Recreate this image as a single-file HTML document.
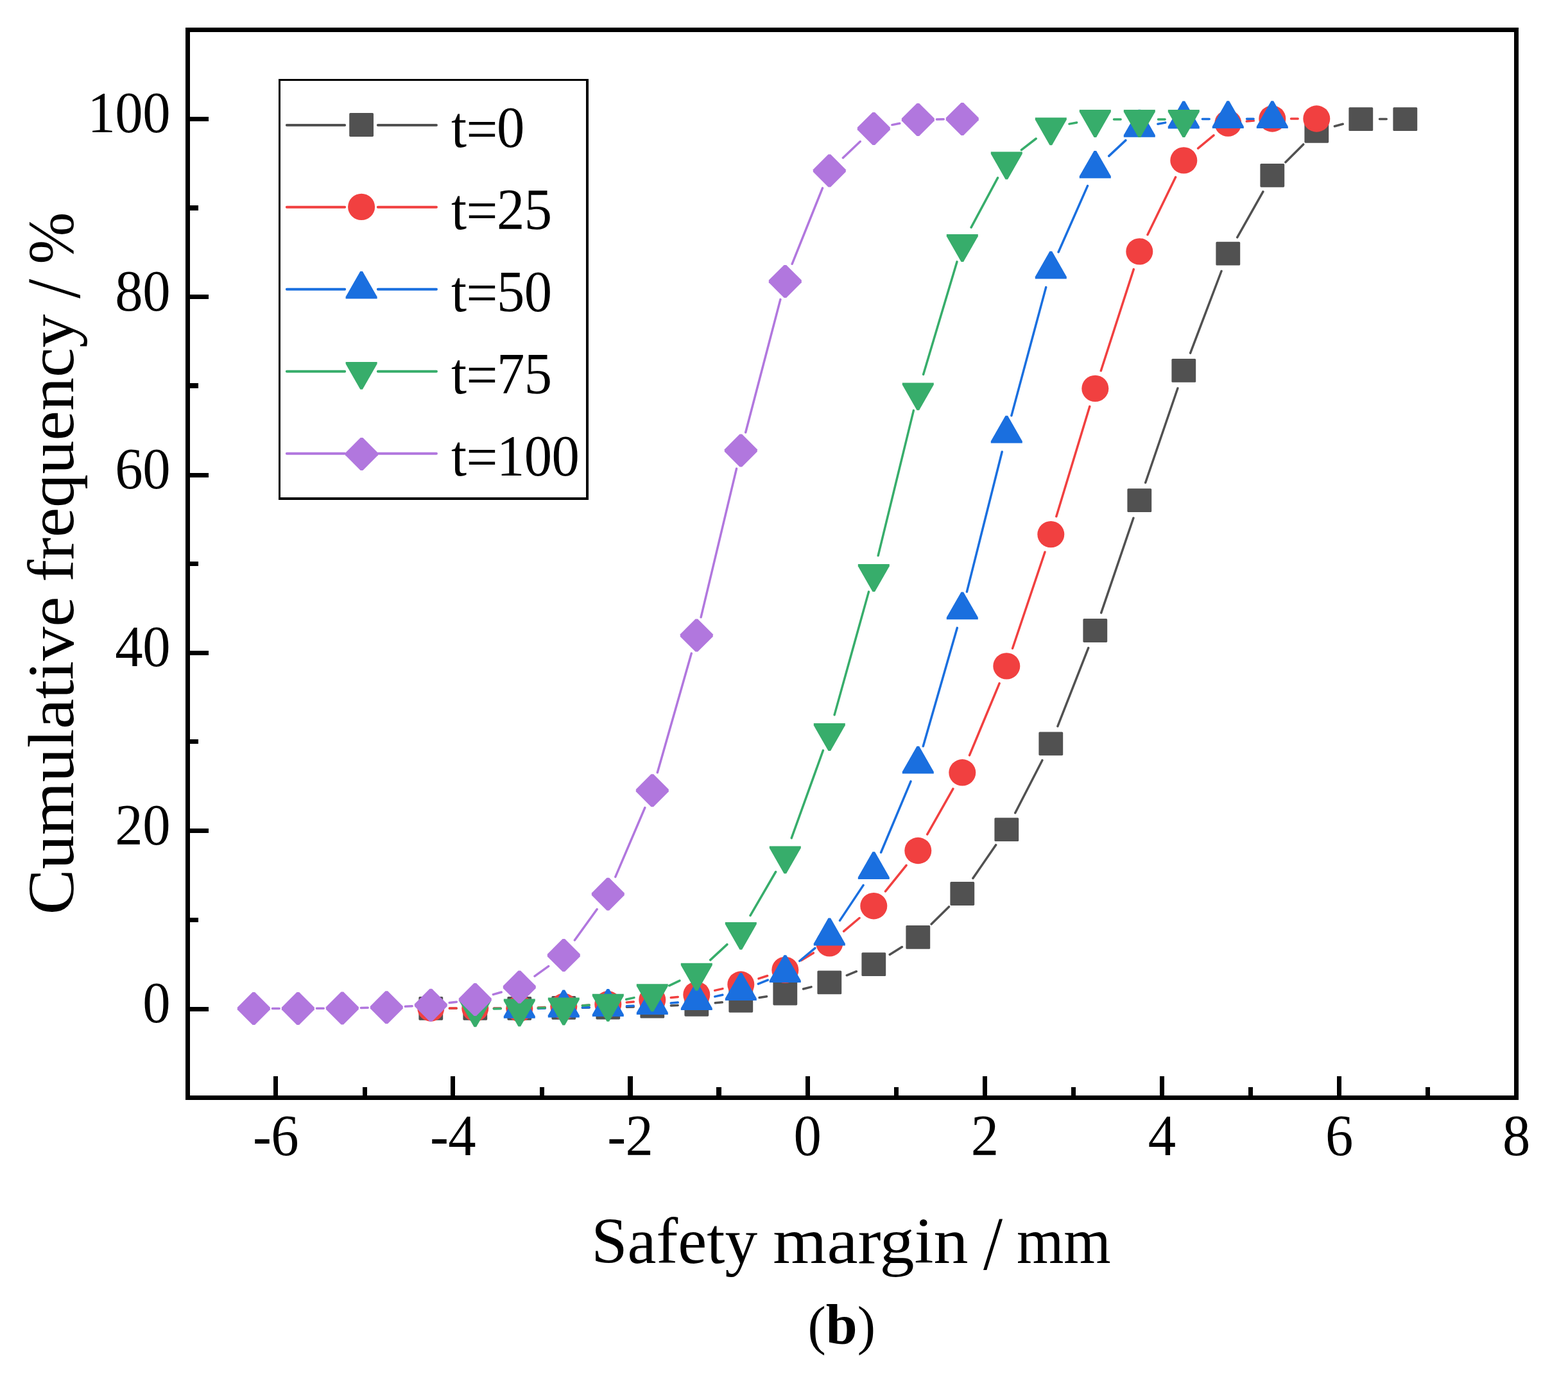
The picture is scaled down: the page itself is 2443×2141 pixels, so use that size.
<!DOCTYPE html>
<html lang="en"><head><meta charset="utf-8"><title>Cumulative frequency vs safety margin (b)</title>
<style>
html,body{margin:0;padding:0;background:#fff;}
body{width:2443px;height:2141px;overflow:hidden;}
svg{display:block;}
text{font-family:"Liberation Serif","DejaVu Serif",serif;fill:#000;}
.tk{font-size:91.4px;letter-spacing:-0.57px;}
.lg{font-size:91.4px;letter-spacing:-0.57px;}
.ti{font-size:101.5px;}
.cap{font-size:88px;}
</style></head><body>
<svg width="2443" height="2141" viewBox="0 0 2443 2141" role="img" aria-label="Cumulative frequency versus safety margin">
<rect x="0" y="0" width="2443" height="2141" fill="#fff"/>
<g id="s-black">
<path d="M700.4 1571.3L711.1 1571.3M769.4 1571.3L780.1 1571.3M838.4 1570.9L849.2 1570.7M907.4 1570.2L918.2 1570.1M976.4 1569.2L987.2 1569.0M1045.4 1567.0L1056.2 1566.5M1114.3 1562.8L1125.3 1561.8M1183.1 1554.6L1194.5 1552.7M1251.6 1541.0L1264.0 1537.9M1319.3 1519.8L1334.3 1513.7M1386.2 1487.4L1405.4 1475.6M1451.1 1440.0L1478.5 1412.9M1515.9 1368.5L1551.7 1316.6M1581.7 1266.7L1623.9 1184.7M1647.9 1131.7L1695.7 1009.6M1715.7 954.9L1765.9 807.2M1784.7 752.0L1834.9 605.0M1854.6 550.1L1903.0 422.5M1927.7 369.8L1967.9 298.7M2002.9 252.7L2030.7 224.9M2079.4 196.7L2092.2 193.2M2149.5 185.6L2160.2 185.6" fill="none" stroke="#515151" stroke-width="3.5" stroke-linecap="round"/>
<rect x="652.4" y="1552.9" width="37.8" height="36.8" rx="1.6" fill="#515151"/>
<rect x="721.4" y="1552.9" width="37.8" height="36.8" rx="1.6" fill="#515151"/>
<rect x="790.4" y="1552.9" width="37.8" height="36.8" rx="1.6" fill="#515151"/>
<rect x="859.4" y="1551.9" width="37.8" height="36.8" rx="1.6" fill="#515151"/>
<rect x="928.4" y="1551.6" width="37.8" height="36.8" rx="1.6" fill="#515151"/>
<rect x="997.4" y="1549.8" width="37.8" height="36.8" rx="1.6" fill="#515151"/>
<rect x="1066.4" y="1546.9" width="37.8" height="36.8" rx="1.6" fill="#515151"/>
<rect x="1135.4" y="1540.9" width="37.8" height="36.8" rx="1.6" fill="#515151"/>
<rect x="1204.4" y="1529.6" width="37.8" height="36.8" rx="1.6" fill="#515151"/>
<rect x="1273.4" y="1512.5" width="37.8" height="36.8" rx="1.6" fill="#515151"/>
<rect x="1342.4" y="1484.2" width="37.8" height="36.8" rx="1.6" fill="#515151"/>
<rect x="1411.4" y="1442.0" width="37.8" height="36.8" rx="1.6" fill="#515151"/>
<rect x="1480.4" y="1374.1" width="37.8" height="36.8" rx="1.6" fill="#515151"/>
<rect x="1549.4" y="1274.2" width="37.8" height="36.8" rx="1.6" fill="#515151"/>
<rect x="1618.4" y="1140.4" width="37.8" height="36.8" rx="1.6" fill="#515151"/>
<rect x="1687.4" y="964.1" width="37.8" height="36.8" rx="1.6" fill="#515151"/>
<rect x="1756.4" y="761.2" width="37.8" height="36.8" rx="1.6" fill="#515151"/>
<rect x="1825.4" y="559.0" width="37.8" height="36.8" rx="1.6" fill="#515151"/>
<rect x="1894.4" y="376.8" width="37.8" height="36.8" rx="1.6" fill="#515151"/>
<rect x="1963.4" y="254.9" width="37.8" height="36.8" rx="1.6" fill="#515151"/>
<rect x="2032.4" y="185.9" width="37.8" height="36.8" rx="1.6" fill="#515151"/>
<rect x="2101.4" y="167.2" width="37.8" height="36.8" rx="1.6" fill="#515151"/>
<rect x="2170.4" y="167.2" width="37.8" height="36.8" rx="1.6" fill="#515151"/>
</g>
<g id="s-red">
<path d="M700.4 1571.1L711.2 1571.1M769.4 1571.2L780.2 1571.3M838.4 1570.0L849.2 1569.6M907.4 1566.8L918.2 1566.3M976.3 1561.9L987.3 1560.9M1045.3 1554.6L1056.3 1553.4M1113.7 1543.4L1125.9 1540.6M1182.0 1524.9L1195.6 1520.5M1248.3 1496.4L1267.3 1484.9M1314.6 1451.1L1339.0 1430.5M1379.5 1388.9L1412.1 1348.3M1444.7 1300.1L1484.9 1229.2M1510.5 1176.9L1557.1 1064.8M1577.6 1010.3L1628.0 860.2M1645.8 804.7L1697.8 633.3M1715.3 577.7L1766.3 419.6M1788.0 365.7L1831.6 276.1M1866.6 231.2L1891.0 210.8M1942.3 189.1L1953.3 188.0M2011.5 185.0L2022.2 185.0" fill="none" stroke="#F14040" stroke-width="3.5" stroke-linecap="round"/>
<ellipse cx="671.3" cy="1571.0" rx="21" ry="20.7" fill="#F14040"/>
<ellipse cx="740.3" cy="1571.2" rx="21" ry="20.7" fill="#F14040"/>
<ellipse cx="809.3" cy="1571.3" rx="21" ry="20.7" fill="#F14040"/>
<ellipse cx="878.3" cy="1568.3" rx="21" ry="20.7" fill="#F14040"/>
<ellipse cx="947.3" cy="1564.8" rx="21" ry="20.7" fill="#F14040"/>
<ellipse cx="1016.3" cy="1558.0" rx="21" ry="20.7" fill="#F14040"/>
<ellipse cx="1085.3" cy="1550.0" rx="21" ry="20.7" fill="#F14040"/>
<ellipse cx="1154.3" cy="1534.0" rx="21" ry="20.7" fill="#F14040"/>
<ellipse cx="1223.3" cy="1511.4" rx="21" ry="20.7" fill="#F14040"/>
<ellipse cx="1292.3" cy="1469.9" rx="21" ry="20.7" fill="#F14040"/>
<ellipse cx="1361.3" cy="1411.7" rx="21" ry="20.7" fill="#F14040"/>
<ellipse cx="1430.3" cy="1325.5" rx="21" ry="20.7" fill="#F14040"/>
<ellipse cx="1499.3" cy="1203.8" rx="21" ry="20.7" fill="#F14040"/>
<ellipse cx="1568.3" cy="1037.9" rx="21" ry="20.7" fill="#F14040"/>
<ellipse cx="1637.3" cy="832.6" rx="21" ry="20.7" fill="#F14040"/>
<ellipse cx="1706.3" cy="605.4" rx="21" ry="20.7" fill="#F14040"/>
<ellipse cx="1775.3" cy="391.9" rx="21" ry="20.7" fill="#F14040"/>
<ellipse cx="1844.3" cy="249.9" rx="21" ry="20.7" fill="#F14040"/>
<ellipse cx="1913.3" cy="192.1" rx="21" ry="20.7" fill="#F14040"/>
<ellipse cx="1982.3" cy="185.0" rx="21" ry="20.7" fill="#F14040"/>
<ellipse cx="2051.3" cy="185.0" rx="21" ry="20.7" fill="#F14040"/>
</g>
<g id="s-blue">
<path d="M838.4 1571.4L849.2 1571.1M907.4 1569.9L918.2 1569.7M976.4 1567.7L987.2 1567.3M1045.3 1563.1L1056.3 1562.1M1113.8 1552.9L1125.8 1550.3M1181.3 1533.1L1196.3 1527.1M1245.7 1497.5L1269.9 1477.3M1308.5 1434.4L1345.1 1379.4M1372.6 1328.3L1419.0 1217.6M1438.3 1162.7L1491.3 978.4M1506.4 922.1L1561.2 704.0M1575.9 647.6L1629.7 447.6M1649.1 392.8L1694.5 289.6M1727.7 243.1L1753.9 218.6M1803.9 193.3L1815.7 191.1M1873.4 185.4L1884.2 185.4M1942.5 185.2L1953.1 185.2" fill="none" stroke="#1A6FDF" stroke-width="3.5" stroke-linecap="round"/>
<polygon points="784.8,1586.8 784.8,1583.6 807.5,1543.9 811.1,1543.9 833.8,1583.6 833.8,1586.8" fill="#1A6FDF"/>
<polygon points="853.8,1585.5 853.8,1582.3 876.5,1542.6 880.1,1542.6 902.8,1582.3 902.8,1585.5" fill="#1A6FDF"/>
<polygon points="922.8,1583.9 922.8,1580.7 945.5,1541.0 949.1,1541.0 971.8,1580.7 971.8,1583.9" fill="#1A6FDF"/>
<polygon points="991.8,1580.9 991.8,1577.7 1014.5,1538.0 1018.1,1538.0 1040.8,1577.7 1040.8,1580.9" fill="#1A6FDF"/>
<polygon points="1060.8,1574.1 1060.8,1570.9 1083.5,1531.2 1087.1,1531.2 1109.8,1570.9 1109.8,1574.1" fill="#1A6FDF"/>
<polygon points="1129.8,1558.9 1129.8,1555.7 1152.5,1516.0 1156.1,1516.0 1178.8,1555.7 1178.8,1558.9" fill="#1A6FDF"/>
<polygon points="1198.8,1531.1 1198.8,1527.9 1221.5,1488.2 1225.1,1488.2 1247.8,1527.9 1247.8,1531.1" fill="#1A6FDF"/>
<polygon points="1267.8,1473.5 1267.8,1470.3 1290.5,1430.6 1294.1,1430.6 1316.8,1470.3 1316.8,1473.5" fill="#1A6FDF"/>
<polygon points="1336.8,1370.1 1336.8,1366.9 1359.5,1327.2 1363.1,1327.2 1385.8,1366.9 1385.8,1370.1" fill="#1A6FDF"/>
<polygon points="1405.8,1205.6 1405.8,1202.4 1428.5,1162.7 1432.1,1162.7 1454.8,1202.4 1454.8,1205.6" fill="#1A6FDF"/>
<polygon points="1474.8,965.3 1474.8,962.1 1497.5,922.4 1501.1,922.4 1523.8,962.1 1523.8,965.3" fill="#1A6FDF"/>
<polygon points="1543.8,690.6 1543.8,687.4 1566.5,647.7 1570.1,647.7 1592.8,687.4 1592.8,690.6" fill="#1A6FDF"/>
<polygon points="1612.8,434.4 1612.8,431.2 1635.5,391.5 1639.1,391.5 1661.8,431.2 1661.8,434.4" fill="#1A6FDF"/>
<polygon points="1681.8,277.8 1681.8,274.6 1704.5,234.9 1708.1,234.9 1730.8,274.6 1730.8,277.8" fill="#1A6FDF"/>
<polygon points="1750.8,213.7 1750.8,210.5 1773.5,170.8 1777.1,170.8 1799.8,210.5 1799.8,213.7" fill="#1A6FDF"/>
<polygon points="1819.8,200.5 1819.8,197.3 1842.5,157.6 1846.1,157.6 1868.8,197.3 1868.8,200.5" fill="#1A6FDF"/>
<polygon points="1888.8,200.1 1888.8,196.9 1911.5,157.2 1915.1,157.2 1937.8,196.9 1937.8,200.1" fill="#1A6FDF"/>
<polygon points="1957.8,200.1 1957.8,196.9 1980.5,157.2 1984.1,157.2 2006.8,196.9 2006.8,200.1" fill="#1A6FDF"/>
</g>
<g id="s-green">
<path d="M769.4 1572.0L780.2 1571.8M838.4 1570.6L849.2 1570.3M907.4 1567.0L918.2 1566.1M975.7 1557.3L987.9 1554.6M1042.7 1535.8L1058.9 1528.1M1106.7 1495.9L1132.9 1471.6M1169.0 1426.6L1208.6 1358.5M1233.2 1305.9L1282.4 1169.4M1300.1 1113.9L1353.5 922.1M1368.2 865.7L1423.4 639.6M1438.6 583.4L1491.0 407.9M1513.1 354.3L1554.5 277.1M1591.4 233.6L1614.2 216.0M1666.0 193.1L1677.6 191.0M1735.5 185.9L1746.1 185.9M1804.5 185.9L1815.1 185.9" fill="none" stroke="#37AD6B" stroke-width="3.5" stroke-linecap="round"/>
<polygon points="715.8,1557.4 715.8,1560.6 738.5,1600.3 742.1,1600.3 764.8,1560.6 764.8,1557.4" fill="#37AD6B"/>
<polygon points="784.8,1556.6 784.8,1559.8 807.5,1599.5 811.1,1599.5 833.8,1559.8 833.8,1556.6" fill="#37AD6B"/>
<polygon points="853.8,1554.5 853.8,1557.7 876.5,1597.4 880.1,1597.4 902.8,1557.7 902.8,1554.5" fill="#37AD6B"/>
<polygon points="922.8,1548.8 922.8,1552.0 945.5,1591.7 949.1,1591.7 971.8,1552.0 971.8,1548.8" fill="#37AD6B"/>
<polygon points="991.8,1533.3 991.8,1536.5 1014.5,1576.2 1018.1,1576.2 1040.8,1536.5 1040.8,1533.3" fill="#37AD6B"/>
<polygon points="1060.8,1500.8 1060.8,1504.0 1083.5,1543.7 1087.1,1543.7 1109.8,1504.0 1109.8,1500.8" fill="#37AD6B"/>
<polygon points="1129.8,1436.9 1129.8,1440.1 1152.5,1479.8 1156.1,1479.8 1178.8,1440.1 1178.8,1436.9" fill="#37AD6B"/>
<polygon points="1198.8,1318.4 1198.8,1321.6 1221.5,1361.3 1225.1,1361.3 1247.8,1321.6 1247.8,1318.4" fill="#37AD6B"/>
<polygon points="1267.8,1127.1 1267.8,1130.3 1290.5,1170.0 1294.1,1170.0 1316.8,1130.3 1316.8,1127.1" fill="#37AD6B"/>
<polygon points="1336.8,879.1 1336.8,882.3 1359.5,922.0 1363.1,922.0 1385.8,882.3 1385.8,879.1" fill="#37AD6B"/>
<polygon points="1405.8,596.4 1405.8,599.6 1428.5,639.3 1432.1,639.3 1454.8,599.6 1454.8,596.4" fill="#37AD6B"/>
<polygon points="1474.8,365.1 1474.8,368.3 1497.5,408.0 1501.1,408.0 1523.8,368.3 1523.8,365.1" fill="#37AD6B"/>
<polygon points="1543.8,236.5 1543.8,239.7 1566.5,279.4 1570.1,279.4 1592.8,239.7 1592.8,236.5" fill="#37AD6B"/>
<polygon points="1612.8,183.3 1612.8,186.5 1635.5,226.2 1639.1,226.2 1661.8,186.5 1661.8,183.3" fill="#37AD6B"/>
<polygon points="1681.8,171.0 1681.8,174.2 1704.5,213.9 1708.1,213.9 1730.8,174.2 1730.8,171.0" fill="#37AD6B"/>
<polygon points="1750.8,171.0 1750.8,174.2 1773.5,213.9 1777.1,213.9 1799.8,174.2 1799.8,171.0" fill="#37AD6B"/>
<polygon points="1819.8,171.0 1819.8,174.2 1842.5,213.9 1846.1,213.9 1868.8,174.2 1868.8,171.0" fill="#37AD6B"/>
</g>
<g id="s-purple">
<path d="M424.4 1571.5L435.2 1571.5M493.4 1571.3L504.2 1571.2M562.4 1570.5L573.2 1570.3M631.4 1568.3L642.2 1567.8M700.2 1562.6L711.4 1561.2M768.4 1549.6L781.2 1546.0M833.0 1521.1L854.6 1505.6M895.4 1465.0L930.2 1416.8M958.8 1366.4L1004.8 1258.6M1024.3 1203.8L1077.3 1018.1M1092.1 961.8L1147.5 730.3M1161.7 673.8L1215.9 466.6M1234.1 411.3L1281.5 293.1M1313.4 245.9L1340.2 220.5M1389.9 194.6L1401.7 192.2M1459.4 186.0L1470.2 185.8" fill="none" stroke="#B177DE" stroke-width="3.5" stroke-linecap="round"/>
<polygon points="393.5,1546.0 397.1,1546.0 420.8,1569.7 420.8,1573.3 397.1,1597.0 393.5,1597.0 369.8,1573.3 369.8,1569.7" fill="#B177DE"/>
<polygon points="462.5,1546.0 466.1,1546.0 489.8,1569.7 489.8,1573.3 466.1,1597.0 462.5,1597.0 438.8,1573.3 438.8,1569.7" fill="#B177DE"/>
<polygon points="531.5,1545.5 535.1,1545.5 558.8,1569.2 558.8,1572.8 535.1,1596.5 531.5,1596.5 507.8,1572.8 507.8,1569.2" fill="#B177DE"/>
<polygon points="600.5,1544.3 604.1,1544.3 627.8,1568.0 627.8,1571.6 604.1,1595.3 600.5,1595.3 576.8,1571.6 576.8,1568.0" fill="#B177DE"/>
<polygon points="669.5,1540.8 673.1,1540.8 696.8,1564.5 696.8,1568.1 673.1,1591.8 669.5,1591.8 645.8,1568.1 645.8,1564.5" fill="#B177DE"/>
<polygon points="738.5,1532.0 742.1,1532.0 765.8,1555.7 765.8,1559.3 742.1,1583.0 738.5,1583.0 714.8,1559.3 714.8,1555.7" fill="#B177DE"/>
<polygon points="807.5,1512.6 811.1,1512.6 834.8,1536.3 834.8,1539.9 811.1,1563.6 807.5,1563.6 783.8,1539.9 783.8,1536.3" fill="#B177DE"/>
<polygon points="876.5,1463.1 880.1,1463.1 903.8,1486.8 903.8,1490.4 880.1,1514.1 876.5,1514.1 852.8,1490.4 852.8,1486.8" fill="#B177DE"/>
<polygon points="945.5,1367.7 949.1,1367.7 972.8,1391.4 972.8,1395.0 949.1,1418.7 945.5,1418.7 921.8,1395.0 921.8,1391.4" fill="#B177DE"/>
<polygon points="1014.5,1206.3 1018.1,1206.3 1041.8,1230.0 1041.8,1233.6 1018.1,1257.3 1014.5,1257.3 990.8,1233.6 990.8,1230.0" fill="#B177DE"/>
<polygon points="1083.5,964.6 1087.1,964.6 1110.8,988.3 1110.8,991.9 1087.1,1015.6 1083.5,1015.6 1059.8,991.9 1059.8,988.3" fill="#B177DE"/>
<polygon points="1152.5,676.5 1156.1,676.5 1179.8,700.2 1179.8,703.8 1156.1,727.5 1152.5,727.5 1128.8,703.8 1128.8,700.2" fill="#B177DE"/>
<polygon points="1221.5,412.9 1225.1,412.9 1248.8,436.6 1248.8,440.2 1225.1,463.9 1221.5,463.9 1197.8,440.2 1197.8,436.6" fill="#B177DE"/>
<polygon points="1290.5,240.5 1294.1,240.5 1317.8,264.2 1317.8,267.8 1294.1,291.5 1290.5,291.5 1266.8,267.8 1266.8,264.2" fill="#B177DE"/>
<polygon points="1359.5,174.9 1363.1,174.9 1386.8,198.6 1386.8,202.2 1363.1,225.9 1359.5,225.9 1335.8,202.2 1335.8,198.6" fill="#B177DE"/>
<polygon points="1428.5,160.9 1432.1,160.9 1455.8,184.6 1455.8,188.2 1432.1,211.9 1428.5,211.9 1404.8,188.2 1404.8,184.6" fill="#B177DE"/>
<polygon points="1497.5,159.9 1501.1,159.9 1524.8,183.6 1524.8,187.2 1501.1,210.9 1497.5,210.9 1473.8,187.2 1473.8,183.6" fill="#B177DE"/>
</g>
<g id="axes" stroke="#000" stroke-width="7" fill="none">
<rect x="292.5" y="46.5" width="2070.0" height="1664.0"/>
</g>
<g id="ticks" fill="#000">
<rect x="292" y="182" width="33" height="7"/>
<rect x="292" y="320" width="17" height="8"/>
<rect x="292" y="459" width="33" height="7"/>
<rect x="292" y="597" width="17" height="8"/>
<rect x="292" y="737" width="33" height="7"/>
<rect x="292" y="875" width="17" height="7"/>
<rect x="292" y="1014" width="33" height="7"/>
<rect x="292" y="1152" width="17" height="7"/>
<rect x="292" y="1291" width="33" height="7"/>
<rect x="292" y="1430" width="17" height="7"/>
<rect x="292" y="1569" width="33" height="7"/>
<rect x="426" y="1677" width="7" height="34"/>
<rect x="565" y="1694" width="7" height="17"/>
<rect x="702" y="1677" width="7" height="34"/>
<rect x="841" y="1694" width="7" height="17"/>
<rect x="978" y="1677" width="8" height="34"/>
<rect x="1116" y="1694" width="8" height="17"/>
<rect x="1255" y="1677" width="7" height="34"/>
<rect x="1393" y="1694" width="7" height="17"/>
<rect x="1531" y="1677" width="7" height="34"/>
<rect x="1669" y="1694" width="7" height="17"/>
<rect x="1807" y="1677" width="7" height="34"/>
<rect x="1945" y="1694" width="7" height="17"/>
<rect x="2083" y="1677" width="7" height="34"/>
<rect x="2221" y="1694" width="7" height="17"/>
</g>
<g id="ylabels" class="tk" text-anchor="end">
<text transform="translate(265.0 1592.8) scale(0.949 1)">0</text>
<text transform="translate(265.0 1315.5) scale(0.949 1)">20</text>
<text transform="translate(265.0 1038.2) scale(0.949 1)">40</text>
<text transform="translate(265.0 760.8) scale(0.949 1)">60</text>
<text transform="translate(265.0 483.5) scale(0.949 1)">80</text>
<text transform="translate(265.0 206.2) scale(0.949 1)">100</text>
</g>
<g id="xlabels" class="tk" text-anchor="middle">
<text transform="translate(429.5 1800) scale(0.949 1)">-6</text>
<text transform="translate(705.6 1800) scale(0.949 1)">-4</text>
<text transform="translate(981.8 1800) scale(0.949 1)">-2</text>
<text transform="translate(1257.9 1800) scale(0.949 1)">0</text>
<text transform="translate(1534.1 1800) scale(0.949 1)">2</text>
<text transform="translate(1810.2 1800) scale(0.949 1)">4</text>
<text transform="translate(2086.3 1800) scale(0.949 1)">6</text>
<text transform="translate(2362.5 1800) scale(0.949 1)">8</text>
</g>
<text class="ti" x="921" y="1968.3"><tspan x="921.2" y="1968.3" textLength="258.9" lengthAdjust="spacingAndGlyphs">Safety</tspan> <tspan x="1204.3" y="1968.3" textLength="304.3" lengthAdjust="spacingAndGlyphs">margin</tspan> <tspan x="1532.0" y="1977.9" textLength="30.1" lengthAdjust="spacingAndGlyphs" font-size="118">/</tspan> <tspan x="1583.9" y="1968.3" textLength="146.8" lengthAdjust="spacingAndGlyphs">mm</tspan></text>
<text class="ti" transform="translate(114.0 1420.9) rotate(-90)"><tspan x="-4.4" y="0.0" textLength="495.7" lengthAdjust="spacingAndGlyphs">Cumulative</tspan> <tspan x="514.0" y="0.0" textLength="417.4" lengthAdjust="spacingAndGlyphs">frequency</tspan> <tspan x="955.8" y="9.8" textLength="30.3" lengthAdjust="spacingAndGlyphs" font-size="118">/</tspan> <tspan x="1009.4" y="0.0" textLength="80.8" lengthAdjust="spacingAndGlyphs">%</tspan></text>
<text class="cap" x="1311.2" y="2094" text-anchor="middle"><tspan font-size="85">(</tspan><tspan font-weight="bold">b</tspan><tspan font-size="85">)</tspan></text>
<g id="legend">
<rect x="434" y="123" width="483" height="656" fill="#fff"/>
<path d="M434 123H917V779H434ZM437 126V775H913V126Z" fill="#000" fill-rule="evenodd"/>
<path d="M446.8 195.0H537.2M588.8 195.0H680" stroke="#515151" stroke-width="3.9" stroke-linecap="round" fill="none"/>
<rect x="544.2" y="176.1" width="37.8" height="36.8" rx="1.6" fill="#515151"/>
<text class="lg" transform="translate(703 229.3) scale(0.949 1)">t<tspan dy="2.2">=</tspan><tspan dx="-1" dy="-2.2">0</tspan></text>
<path d="M446.8 322.8H537.2M588.8 322.8H680" stroke="#F14040" stroke-width="3.9" stroke-linecap="round" fill="none"/>
<ellipse cx="563.1" cy="322.4" rx="21" ry="20.7" fill="#F14040"/>
<text class="lg" transform="translate(703 357.1) scale(0.949 1)">t<tspan dy="2.2">=</tspan><tspan dx="-1" dy="-2.2">25</tspan></text>
<path d="M446.8 450.7H537.2M588.8 450.7H680" stroke="#1A6FDF" stroke-width="3.9" stroke-linecap="round" fill="none"/>
<polygon points="538.6,465.6 538.6,462.4 561.3,422.7 564.9,422.7 587.6,462.4 587.6,465.6" fill="#1A6FDF"/>
<text class="lg" transform="translate(703 485.0) scale(0.949 1)">t<tspan dy="2.2">=</tspan><tspan dx="-1" dy="-2.2">50</tspan></text>
<path d="M446.8 578.8H537.2M588.8 578.8H680" stroke="#37AD6B" stroke-width="3.9" stroke-linecap="round" fill="none"/>
<polygon points="538.6,563.9 538.6,567.1 561.3,606.8 564.9,606.8 587.6,567.1 587.6,563.9" fill="#37AD6B"/>
<text class="lg" transform="translate(703 613.1) scale(0.949 1)">t<tspan dy="2.2">=</tspan><tspan dx="-1" dy="-2.2">75</tspan></text>
<path d="M446.8 706.8H537.2M588.8 706.8H680" stroke="#B177DE" stroke-width="3.9" stroke-linecap="round" fill="none"/>
<polygon points="561.7,682.0 565.3,682.0 589.0,705.7 589.0,709.3 565.3,733.0 561.7,733.0 538.0,709.3 538.0,705.7" fill="#B177DE"/>
<text class="lg" transform="translate(703 741.1) scale(0.949 1)">t<tspan dy="2.2">=</tspan><tspan dx="-1" dy="-2.2">100</tspan></text>
</g>
</svg></body></html>
